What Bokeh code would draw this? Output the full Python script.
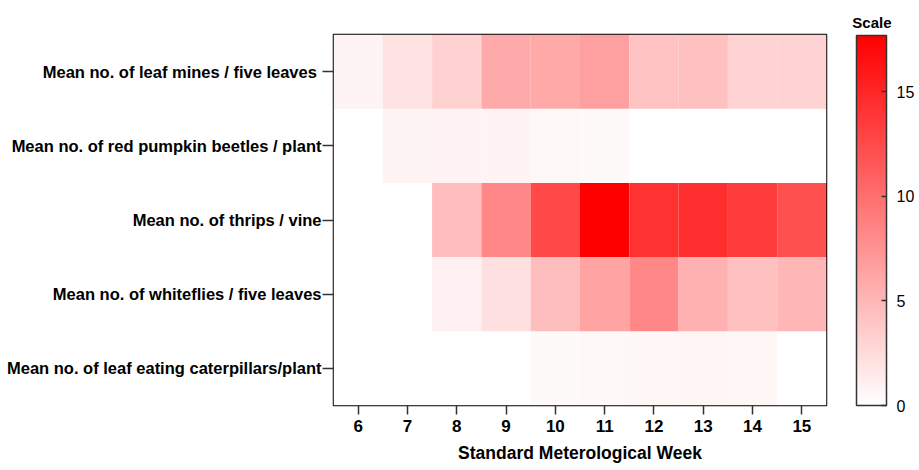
from bokeh.plotting import figure
from bokeh.models import (LinearColorMapper, ColorBar, FixedTicker, ColumnDataSource,
                          FactorRange, Range1d)
from bokeh.embed import file_html
from bokeh.resources import INLINE

weeks = [6, 7, 8, 9, 10, 11, 12, 13, 14, 15]
pests = [
    "Mean no. of leaf eating caterpillars/plant",
    "Mean no. of whiteflies / five leaves",
    "Mean no. of thrips / vine",
    "Mean no. of red pumpkin beetles / plant",
    "Mean no. of  leaf mines / five leaves",
]
caterpillars = [0, 0, 0, 0, 0.35, 0.5, 0.65, 0.75, 0.65, 0]
whiteflies = [0, 0, 1.0, 2.2, 4.5, 6.4, 8.3, 5.5, 4.4, 5.1]
thrips = [0, 0, 4.6, 8.3, 12.7, 17.7, 14.2, 14.4, 13.5, 12.1]
pumpkin_beetles = [0, 0.8, 0.85, 0.85, 0.55, 0.4, 0, 0, 0, 0]
leaf_mines = [0.8, 2.0, 3.2, 5.9, 6.0, 6.6, 4.2, 4.4, 3.1, 3.1]
scale_max = 17.7
scale_ticks = [0, 5, 10, 15]

series = [caterpillars, whiteflies, thrips, pumpkin_beetles, leaf_mines]
xs, ys, vs = [], [], []
for name, vals in zip(pests, series):
    for w, v in zip(weeks, vals):
        xs.append(w)
        ys.append(name)
        vs.append(v)
src = ColumnDataSource(dict(x=xs, y=ys, v=vs))

palette = []
for i in range(256):
    g = 255 - i
    palette.append("#ff%02x%02x" % (g, g))
mapper = LinearColorMapper(palette=palette, low=0, high=scale_max)

font = "Liberation Sans"
p = figure(frame_width=493, frame_height=371, output_backend="svg", toolbar_location=None,
           x_range=Range1d(5.5, 15.5), y_range=FactorRange(*pests),
           min_border_left=333, min_border_top=34, min_border_bottom=60,
           min_border_right=88, title="Scale")
p.title.align = "right"
p.title.offset = -65
p.title.standoff = 8
p.title.text_font = font
p.title.text_font_style = "bold"
p.title.text_font_size = "15px"
p.title.text_color = "black"

p.rect(x="x", y="y", width=1, height=1, source=src,
       fill_color={"field": "v", "transform": mapper}, line_color=None)

p.outline_line_color = "black"
p.outline_line_width = 1.5
p.grid.visible = False
p.background_fill_color = "white"

p.xaxis.ticker = FixedTicker(ticks=weeks)
p.xaxis.axis_label = "Standard Meterological Week"
p.xaxis.axis_label_text_font = font
p.xaxis.axis_label_text_font_style = "bold"
p.xaxis.axis_label_text_font_size = "17.5px"
p.xaxis.axis_label_text_color = "black"
p.xaxis.major_label_text_font = font
p.xaxis.major_label_text_font_style = "bold"
p.xaxis.major_label_text_font_size = "17px"
p.xaxis.major_label_text_color = "black"
p.xaxis.axis_line_color = None
p.xaxis.minor_tick_line_color = None
p.xaxis.major_tick_line_color = "#333333"
p.xaxis.major_tick_line_width = 1.5
p.xaxis.major_tick_in = 0
p.xaxis.major_tick_out = 9
p.xaxis.major_label_standoff = 5
p.xaxis.axis_label_standoff = 8

p.yaxis.major_label_text_font = font
p.yaxis.major_label_text_font_style = "bold"
p.yaxis.major_label_text_font_size = "16.5px"
p.yaxis.major_label_text_color = "black"
p.yaxis.axis_line_color = None
p.yaxis.major_tick_line_color = "#333333"
p.yaxis.major_tick_line_width = 1.5
p.yaxis.major_tick_in = 0
p.yaxis.major_tick_out = 11
p.yaxis.major_label_standoff = 1

cb = ColorBar(color_mapper=mapper, ticker=FixedTicker(ticks=scale_ticks),
              width=30, height=370, location=(523, 0), padding=0,
              major_label_text_font=font, major_label_text_font_size="16px",
              major_label_text_color="black",
              bar_line_color="#333333", bar_line_width=1.5,
              major_tick_line_color="#333333", major_tick_line_width=1.5,
              major_tick_in=5, major_tick_out=0, label_standoff=10,
              background_fill_color=None, border_line_color=None)
p.add_layout(cb, "center")

open("out.html", "w").write(file_html(p, INLINE))
